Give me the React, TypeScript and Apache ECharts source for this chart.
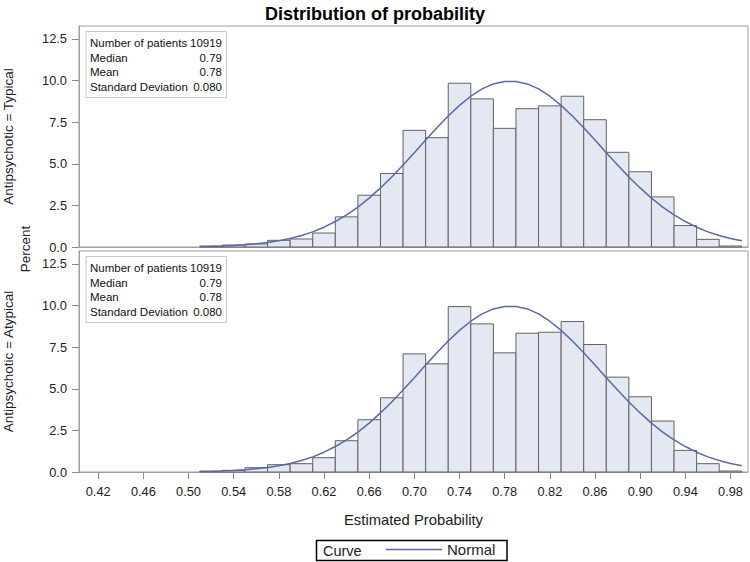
import React, { useEffect, useRef } from "react";
import * as echarts from "echarts";

const binCenters = [0.52, 0.54, 0.56, 0.58, 0.6, 0.62, 0.64, 0.66, 0.68, 0.7, 0.72, 0.74, 0.76, 0.78, 0.8, 0.82, 0.84, 0.86, 0.88, 0.9, 0.92, 0.94, 0.96, 0.98];
const binWidth = 0.02;
const typicalPct = [0.05, 0.12, 0.18, 0.4, 0.48, 0.84, 1.81, 3.11, 4.42, 7.01, 6.57, 9.84, 8.9, 7.13, 8.31, 8.48, 9.06, 7.65, 5.69, 4.52, 3.01, 1.29, 0.46, 0.06];
const atypicalPct = [0.05, 0.1, 0.26, 0.44, 0.5, 0.86, 1.88, 3.14, 4.46, 7.1, 6.5, 9.94, 8.9, 7.16, 8.34, 8.4, 9.04, 7.66, 5.7, 4.52, 3.06, 1.3, 0.5, 0.06];

const curveX = [0.51, 0.52, 0.53, 0.54, 0.55, 0.56, 0.57, 0.58, 0.59, 0.6, 0.61, 0.62, 0.63, 0.64, 0.65, 0.66, 0.67, 0.68, 0.69, 0.7, 0.71, 0.72, 0.73, 0.74, 0.75, 0.76, 0.77, 0.78, 0.79, 0.8, 0.81, 0.82, 0.83, 0.84, 0.85, 0.86, 0.87, 0.88, 0.89, 0.9, 0.91, 0.92, 0.93, 0.94, 0.95, 0.96, 0.97, 0.98, 0.99];
const curveY = [0.03, 0.04, 0.06, 0.09, 0.13, 0.19, 0.27, 0.37, 0.51, 0.69, 0.91, 1.19, 1.53, 1.93, 2.4, 2.94, 3.55, 4.21, 4.93, 5.67, 6.43, 7.17, 7.87, 8.51, 9.06, 9.5, 9.8, 9.95, 9.95, 9.8, 9.5, 9.06, 8.51, 7.87, 7.17, 6.43, 5.67, 4.93, 4.21, 3.55, 2.94, 2.4, 1.93, 1.53, 1.19, 0.91, 0.69, 0.51, 0.37];

const xTickValues = [0.42, 0.46, 0.5, 0.54, 0.58, 0.62, 0.66, 0.7, 0.74, 0.78, 0.82, 0.86, 0.9, 0.94, 0.98];
const yTickValues = [0, 2.5, 5, 7.5, 10, 12.5];

const panelLabels = ["Antipsychotic = Typical", "Antipsychotic = Atypical"];
const statLabels = ["Number of patients", "Median", "Mean", "Standard Deviation"];
const typicalStats = ["10919", "0.79", "0.78", "0.080"];
const atypicalStats = ["10919", "0.79", "0.78", "0.080"];

const FONT = "'Liberation Sans', Arial, sans-serif";
const GRID_LEFT = 79;
const GRID_W = 669;
const GRID_H = 221;
const GRID_TOPS = [26, 251];
const CURVE_COLOR = "#5a68a8";

export default function App() {
  const ref = useRef<HTMLDivElement>(null);

  useEffect(() => {
    const chart = echarts.init(ref.current!, null, { renderer: "svg" });

    const barSeries = (data: number[], idx: number) => ({
      type: "custom",
      xAxisIndex: idx,
      yAxisIndex: idx,
      encode: { x: 0, y: 1 },
      data: binCenters.map((c, i) => [c, data[i]]),
      renderItem: (params: any, api: any) => {
        const c = api.value(0);
        const v = api.value(1);
        const p0 = api.coord([c - binWidth / 2, 0]);
        const p1 = api.coord([c + binWidth / 2, v]);
        return {
          type: "rect",
          shape: { x: p0[0], y: p1[1], width: p1[0] - p0[0], height: p0[1] - p1[1] },
          style: { fill: "#e4e8f2", stroke: "#626262", lineWidth: 1 },
        };
      },
      z: 2,
    });

    const curveSeries = (idx: number) => ({
      type: "line",
      name: "Normal",
      xAxisIndex: idx,
      yAxisIndex: idx,
      data: curveX.map((x, i) => [x, curveY[i]]),
      symbol: "none",
      smooth: false,
      lineStyle: { color: CURVE_COLOR, width: 1.5 },
      itemStyle: { color: CURVE_COLOR },
      z: 3,
    });

    const inset = (gridTop: number, values: string[]) => ({
      type: "group",
      children: [
        {
          type: "rect",
          shape: { x: 86, y: gridTop + 5.5, width: 140.5, height: 66 },
          style: { fill: "#ffffff", stroke: "#c8c8c8", lineWidth: 1 },
        },
        ...statLabels.map((s, i) => ({
          type: "text",
          x: 90,
          y: gridTop + 17 + i * 14.5,
          style: { text: s, font: `11.5px ${FONT}`, fill: "#111", textAlign: "left", textVerticalAlign: "middle" },
        })),
        ...values.map((s, i) => ({
          type: "text",
          x: 222,
          y: gridTop + 17 + i * 14.5,
          style: { text: s, font: `11.5px ${FONT}`, fill: "#111", textAlign: "right", textVerticalAlign: "middle" },
        })),
      ],
    });

    const yAxis = (idx: number) => ({
      type: "value",
      gridIndex: idx,
      min: 0,
      max: 13.28,
      axisLine: { show: true, lineStyle: { color: "#a0a0a0" } },
      axisTick: { show: true, length: 7, lineStyle: { color: "#8a8a8a" }, customValues: yTickValues },
      axisLabel: {
        customValues: yTickValues,
        formatter: (v: number) => v.toFixed(1),
        fontSize: 12.8,
        color: "#222",
        fontFamily: FONT,
        margin: 12,
      },
      splitLine: { show: false },
    });

    const option: any = {
      animation: false,
      backgroundColor: "#ffffff",
      textStyle: { fontFamily: FONT },
      title: {
        text: "Distribution of probability",
        left: "center",
        top: 0,
        textStyle: { fontSize: 18, fontWeight: "bold", color: "#000", fontFamily: FONT },
      },
      grid: GRID_TOPS.map((t) => ({
        left: GRID_LEFT,
        top: t,
        width: GRID_W,
        height: GRID_H,
        show: true,
        borderColor: "#a0a0a0",
        borderWidth: 1,
        backgroundColor: "transparent",
      })),
      xAxis: [0, 1].map((idx) => ({
        type: "value",
        gridIndex: idx,
        min: 0.403,
        max: 0.9955,
        axisLine: { show: true, lineStyle: { color: "#a0a0a0" } },
        axisTick: { show: idx === 1, length: 7, lineStyle: { color: "#8a8a8a" }, customValues: xTickValues },
        axisLabel: {
          show: idx === 1,
          customValues: xTickValues,
          formatter: (v: number) => v.toFixed(2),
          fontSize: 12.8,
          color: "#222",
          fontFamily: FONT,
          margin: 13,
        },
        splitLine: { show: false },
        name: idx === 1 ? "Estimated Probability" : "",
        nameLocation: "middle",
        nameGap: 40,
        nameTextStyle: { fontSize: 14.8, color: "#222", fontFamily: FONT },
      })),
      yAxis: [yAxis(0), yAxis(1)],
      legend: {
        data: [{ name: "Normal", icon: "rect" }],
        left: 386,
        top: 542,
        itemWidth: 56,
        itemHeight: 1.5,
        itemGap: 8,
        padding: 0,
        itemStyle: { color: CURVE_COLOR },
        textStyle: { fontSize: 15, color: "#222", fontFamily: FONT },
      },
      series: [barSeries(typicalPct, 0), curveSeries(0), barSeries(atypicalPct, 1), curveSeries(1)],
      graphic: [
        inset(GRID_TOPS[0], typicalStats),
        inset(GRID_TOPS[1], atypicalStats),
        ...panelLabels.map((s, i) => ({
          type: "text",
          x: 8,
          y: GRID_TOPS[i] + GRID_H / 2,
          rotation: Math.PI / 2,
          style: { text: s, font: `13.5px ${FONT}`, fill: "#222", textAlign: "center", textVerticalAlign: "middle" },
        })),
        {
          type: "text",
          x: 25.5,
          y: 249,
          rotation: Math.PI / 2,
          style: { text: "Percent", font: `13.5px ${FONT}`, fill: "#222", textAlign: "center", textVerticalAlign: "middle" },
        },
        {
          type: "rect",
          shape: { x: 316.5, y: 540.5, width: 190.5, height: 20 },
          style: { fill: "none", stroke: "#000", lineWidth: 1.5 },
        },
        {
          type: "text",
          x: 323,
          y: 550.5,
          style: { text: "Curve", font: `14.5px ${FONT}`, fill: "#222", textAlign: "left", textVerticalAlign: "middle" },
        },
      ],
    };

    chart.setOption(option);
    return () => chart.dispose();
  }, []);

  return <div ref={ref} style={{ position: "fixed", left: 0, top: 0, width: 750, height: 562 }} />;
}
